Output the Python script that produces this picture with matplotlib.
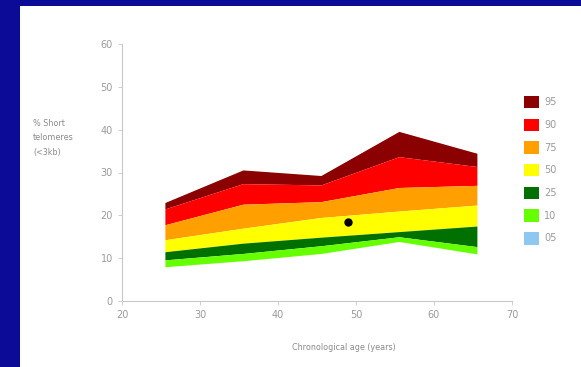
import matplotlib
matplotlib.use("Agg")
import matplotlib.pyplot as plt
from matplotlib.patches import Patch, Rectangle

# age-group midpoints (years)
ages = [25.5, 35.5, 45.5, 55.5, 65.5]

# percentile curves, % short telomeres (<3kb)
p95 = [23.0, 30.6, 29.3, 39.6, 34.5]
p90 = [21.5, 27.4, 27.1, 33.7, 31.4]
p75 = [17.8, 22.6, 23.2, 26.5, 27.0]
p50 = [14.3, 17.0, 19.5, 21.0, 22.4]
p25 = [11.5, 13.5, 14.9, 16.2, 17.5]
p10 = [9.6, 11.1, 12.9, 15.0, 12.7]
p05 = [8.0, 9.4, 11.1, 13.9, 11.0]

# the patient
patient_age = [49.0]
patient_val = [18.5]

legend_labels = ["95", "90", "75", "50", "25", "10", "05"]
band_colors = ["#8b0000", "#ff0000", "#ffa000", "#ffff00", "#007000", "#66ff00", "#8ec8f0"]

grey = "#8a8a8a"

fig = plt.figure(figsize=(5.81, 3.67), dpi=100, facecolor="#0b0b98")
# white slide panel
fig.patches.append(Rectangle((20 / 581, 0), 1, 1 - 6 / 367, transform=fig.transFigure,
                             facecolor="white", edgecolor="none", zorder=0))

ax = fig.add_axes([122 / 581, 66 / 367, 390 / 581, 257 / 367])
ax.set_zorder(2)
ax.set_facecolor("none")

curves = [p95, p90, p75, p50, p25, p10, p05]
for upper, lower, c in zip(curves[:-1], curves[1:], band_colors[:-1]):
    ax.fill_between(ages, lower, upper, color=c, linewidth=0)

ax.plot(patient_age, patient_val, "o", color="black", markersize=5)

ax.set_xlim(20, 70)
ax.set_ylim(0, 60)
ax.set_xticks(range(20, 71, 10))
ax.set_yticks(range(0, 61, 10))
for side in ("top", "right"):
    ax.spines[side].set_visible(False)
for side in ("left", "bottom"):
    ax.spines[side].set_color("#c8c8c8")
    ax.spines[side].set_linewidth(0.8)
ax.tick_params(colors="#c8c8c8", labelcolor="#9a9a9a", labelsize=7, length=3, width=0.6)

fig.text(33 / 581, 1 - 138 / 367, "% Short\ntelomeres\n(<3kb)", color=grey, fontsize=5.8,
         ha="left", va="center", linespacing=1.85, zorder=3)
fig.text(344 / 581, 1 - 348 / 367, "Chronological age (years)", color=grey, fontsize=5.8,
         ha="center", va="center", zorder=3)

handles = [Patch(facecolor=c, edgecolor="none") for c in band_colors]
leg = fig.legend(handles, legend_labels, loc="upper left", bbox_to_anchor=(519 / 581, 1 - 91 / 367),
                 frameon=False, fontsize=7, labelcolor="#9a9a9a", handlelength=1.6, handleheight=1.6,
                 labelspacing=1.05, handletextpad=0.5, borderpad=0)
leg.set_zorder(3)

fig.savefig("out.png", dpi=100, facecolor=fig.get_facecolor())
